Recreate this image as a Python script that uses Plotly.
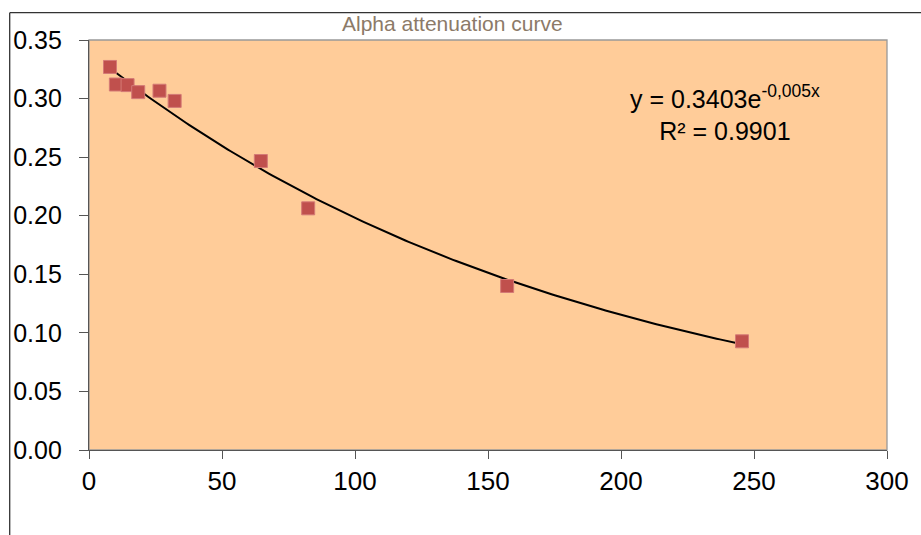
import numpy as np
import plotly.graph_objects as go

# ---- data ----
x_vals = [7.9, 10.1, 14.5, 18.5, 26.5, 32.2, 64.6, 82.4, 157.2, 245.5]
y_vals = [0.327, 0.312, 0.3115, 0.3055, 0.3067, 0.298, 0.2467, 0.2063, 0.140, 0.0928]
x_ticks = [0, 50, 100, 150, 200, 250, 300]
y_ticks = [0.00, 0.05, 0.10, 0.15, 0.20, 0.25, 0.30, 0.35]
title_text = "Alpha attenuation curve"
equation_text = "y = 0.3403e<sup>-0,005x</sup><br>R² = 0.9901"

# exponential trendline fitted to the data
b, a = np.polyfit(np.array(x_vals), np.log(np.array(y_vals)), 1)
xt = np.linspace(min(x_vals), max(x_vals), 200)
yt = np.exp(a) * np.exp(b * xt)

W, H = 921, 535
L, R, T, B = 89, 889, 40, 450  # plot area pixels


def px(xp):
    return (xp - L) / (R - L)


def py(yp):
    return (B - yp) / (B - T)


FONT = "Arial, Liberation Sans, sans-serif"

fig = go.Figure()
fig.add_trace(go.Scatter(x=xt, y=yt, mode="lines",
                         line=dict(color="black", width=2), hoverinfo="skip",
                         showlegend=False))
fig.add_trace(go.Scatter(x=x_vals, y=y_vals, mode="markers",
                         marker=dict(symbol="square", size=13, color="#C0504D",
                                     line=dict(color="#D47A76", width=1)),
                         showlegend=False))

fig.update_layout(
    width=W, height=H,
    margin=dict(l=L, r=W - R, t=T, b=H - B, pad=0),
    paper_bgcolor="white",
    plot_bgcolor="#FFCC99",
    font=dict(family=FONT, size=25, color="black"),
    xaxis=dict(range=[0, 300], tickvals=x_ticks, ticktext=[str(v) for v in x_ticks],
               showgrid=False, zeroline=False, showline=True, linecolor="#555555",
               linewidth=1.3, ticks="outside", ticklen=8, tickcolor="#555555",
               tickfont=dict(family=FONT, size=26, color="black")),
    yaxis=dict(range=[0, 0.35], tickvals=y_ticks, ticktext=[f"{v:.2f}" for v in y_ticks],
               showgrid=False, zeroline=False, showline=True, linecolor="#555555",
               linewidth=1.3, ticks="outside", ticklen=9, tickcolor="#555555",
               ticklabelstandoff=12,
               tickfont=dict(family=FONT, size=25, color="black")),
    shapes=[
        # plot-area border (top and right lighter)
        dict(type="rect", xref="paper", yref="paper", x0=0, x1=1, y0=0, y1=1,
             line=dict(color="#999999", width=1.3), layer="below"),
        # outer chart frame (cropped)
        dict(type="line", xref="paper", yref="paper", x0=px(9.5), x1=px(W + 5),
             y0=py(12.7), y1=py(12.7), line=dict(color="#333333", width=1.3)),
        dict(type="line", xref="paper", yref="paper", x0=px(9.5), x1=px(9.5),
             y0=py(12.7), y1=py(H + 5), line=dict(color="#333333", width=1.3)),
    ],
    annotations=[
        dict(text=title_text, xref="paper", yref="paper", x=px(453), y=py(23.5),
             xanchor="center", yanchor="middle", showarrow=False,
             font=dict(family=FONT, size=21, color="#8C7A68")),
        dict(text=equation_text, xref="paper", yref="paper", x=px(727), y=py(113),
             xanchor="center", yanchor="middle", align="center", showarrow=False,
             font=dict(family=FONT, size=25, color="black")),
    ],
)

fig.write_html("out.html")
